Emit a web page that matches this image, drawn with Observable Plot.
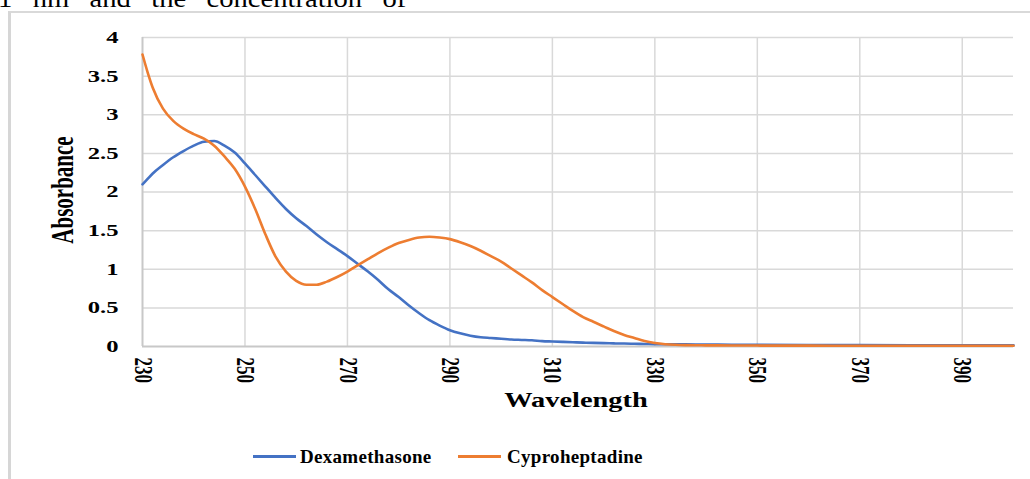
<!DOCTYPE html>
<html>
<head>
<meta charset="utf-8">
<script src="https://cdn.jsdelivr.net/npm/d3@7"></script>
<script src="https://cdn.jsdelivr.net/npm/@observablehq/plot@0.6"></script>
<style>
  html, body { margin: 0; padding: 0; background: #fff; }
  body { width: 1030px; height: 479px; overflow: hidden; position: relative; font-family: "Liberation Serif", "Times New Roman", serif; }
  .abs { position: absolute; white-space: nowrap; }
  #chart { position: absolute; left: 0; top: 0; }
  #border { position: absolute; left: 8px; top: 11px; width: 1200px; height: 600px; border-left: 3px solid #d6d6d6; border-top: 2px solid #d9d9d9; }
</style>
</head>
<body>
<div class="abs" id="toptext" style="left:-2px; top:-14px; font-size:26px; line-height:26px; word-spacing:12px; transform-origin:0 0; transform:scale(1.1,1);">1 nm and the concentration of</div>
<div id="border"></div>
<div id="chart"></div>
<div class="abs" style="left:63px; top:190px; width:0; height:0;">
  <span class="abs" style="left:0; top:0; font-size:21px; line-height:21px; font-weight:bold; transform:translate(-50%,-50%) rotate(-90deg) scale(1,1.5);">Absorbance</span>
</div>
<div class="abs" style="left:576px; top:400px; width:0; height:0;">
  <span class="abs" style="left:0; top:0; font-size:22px; line-height:22px; font-weight:bold; transform:translate(-50%,-50%) scale(1.29,1);">Wavelength</span>
</div>
<div id="legend"></div>
<script>
// ---- data ----
const wavelengths = [230,231,232,234,236,238,240,242,244,246,248,250,252,254,256,258,260,262,264,266,268,270,272,274,276,278,280,282,284,286,288,290,292,294,296,298,300,302,304,306,308,310,312,314,316,318,320,322,324,326,328,330,332,334,336,340,345,350,360,370,380,390,400];
const dexamethasone = [2.10,2.17,2.24,2.35,2.45,2.53,2.60,2.65,2.66,2.60,2.51,2.37,2.22,2.07,1.92,1.78,1.66,1.56,1.45,1.35,1.26,1.17,1.07,0.97,0.86,0.74,0.64,0.53,0.43,0.34,0.27,0.21,0.17,0.14,0.12,0.11,0.10,0.09,0.085,0.08,0.07,0.065,0.06,0.055,0.05,0.047,0.044,0.04,0.038,0.035,0.033,0.03,0.029,0.028,0.027,0.025,0.023,0.022,0.02,0.018,0.016,0.015,0.014];
const cyproheptadine = [3.78,3.55,3.35,3.08,2.92,2.82,2.75,2.69,2.60,2.46,2.30,2.07,1.78,1.45,1.16,0.97,0.85,0.80,0.80,0.84,0.90,0.97,1.05,1.13,1.21,1.28,1.34,1.38,1.41,1.42,1.41,1.39,1.35,1.30,1.24,1.17,1.10,1.01,0.92,0.83,0.73,0.64,0.55,0.46,0.38,0.32,0.26,0.20,0.15,0.11,0.07,0.045,0.03,0.022,0.018,0.015,0.013,0.012,0.011,0.01,0.01,0.01,0.01];
const xTicks = [230,250,270,290,310,330,350,370,390];
const yTicks = [0,0.5,1,1.5,2,2.5,3,3.5,4];
const seriesNames = ["Dexamethasone", "Cyproheptadine"];
const seriesColors = ["#4472c4", "#ed7d31"];

const serif = '"Liberation Serif", "Times New Roman", serif';
const chart = Plot.plot({
  width: 1030,
  height: 400,
  marginTop: 37,
  marginBottom: 54,
  marginLeft: 142,
  marginRight: 17,
  style: { fontFamily: serif, fontWeight: "bold", fontSize: "17px", color: "#000", background: "transparent", overflow: "visible" },
  x: { domain: [230, 400], label: null },
  y: { domain: [0, 4], label: null },
  marks: [
    Plot.ruleX(xTicks.slice(1), { stroke: "#d9d9d9", strokeWidth: 1.5 }),
    Plot.ruleY(yTicks.slice(1), { stroke: "#d9d9d9", strokeWidth: 1.5 }),
    Plot.ruleX([230], { stroke: "#c8c8c8", strokeWidth: 2 }),
    Plot.ruleY([0], { stroke: "#c8c8c8", strokeWidth: 2 }),
    Plot.axisX(xTicks, { tickSize: 0, tickRotate: 90, tickPadding: 11, label: null, fontSize: 17 }),
    Plot.axisY(yTicks, { tickSize: 0, tickPadding: 24, label: null, fontSize: 17, tickFormat: d => String(d) }),
    Plot.line(wavelengths, { x: wavelengths, y: dexamethasone, stroke: seriesColors[0], strokeWidth: 2.6, curve: "monotone-x" }),
    Plot.line(wavelengths, { x: wavelengths, y: cyproheptadine, stroke: seriesColors[1], strokeWidth: 2.6, curve: "monotone-x" })
  ]
});
document.getElementById("chart").appendChild(chart);

// stretch tick labels horizontally like the reference image
d3.select(chart).selectAll('g[aria-label="y-axis tick label"] text').each(function () {
  const t = this.getAttribute("transform") || "";
  this.setAttribute("transform", t + " scale(1.45,1)");
});
d3.select(chart).selectAll('g[aria-label="x-axis tick label"] text').each(function () {
  const t = this.getAttribute("transform") || "";
  this.setAttribute("transform", t + " scale(1,1.45)");
});

// legend
const legend = document.getElementById("legend");
const legendPos = [{ line: 253, text: 300 }, { line: 458, text: 507 }];
seriesNames.forEach((name, i) => {
  const l = document.createElement("div");
  l.className = "abs";
  l.style.cssText = `left:${legendPos[i].line}px; top:455px; width:43px; height:3px; background:${seriesColors[i]};`;
  legend.appendChild(l);
  const t = document.createElement("div");
  t.className = "abs";
  t.style.cssText = `left:${legendPos[i].text}px; top:447px; font-size:19px; line-height:19px; font-weight:bold; letter-spacing:0.3px;`;
  t.textContent = name;
  legend.appendChild(t);
});
</script>
</body>
</html>
